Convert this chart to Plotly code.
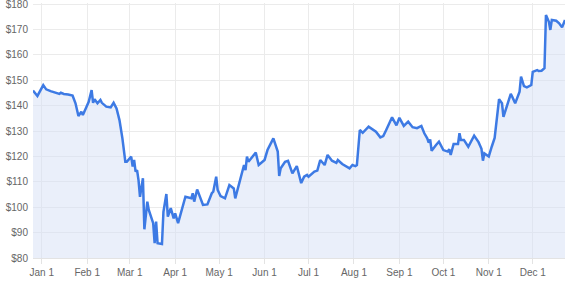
import plotly.graph_objects as go

dates = [
    "2019-12-26", "2019-12-29", "2020-01-02", "2020-01-04", "2020-01-07", "2020-01-11",
    "2020-01-13", "2020-01-14", "2020-01-16", "2020-01-19", "2020-01-22", "2020-01-24",
    "2020-01-26", "2020-01-28", "2020-01-29", "2020-01-31", "2020-02-02", "2020-02-04",
    "2020-02-05", "2020-02-06", "2020-02-08", "2020-02-10", "2020-02-11", "2020-02-14",
    "2020-02-17", "2020-02-19", "2020-02-21", "2020-02-23", "2020-02-25", "2020-02-27",
    "2020-02-28", "2020-03-02", "2020-03-03", "2020-03-04", "2020-03-05", "2020-03-06",
    "2020-03-07", "2020-03-08", "2020-03-10", "2020-03-11", "2020-03-13", "2020-03-14",
    "2020-03-17", "2020-03-18", "2020-03-19", "2020-03-20", "2020-03-23", "2020-03-24",
    "2020-03-26", "2020-03-27", "2020-03-29", "2020-03-31", "2020-04-01", "2020-04-03",
    "2020-04-06", "2020-04-08", "2020-04-12", "2020-04-13", "2020-04-14", "2020-04-16",
    "2020-04-20", "2020-04-23", "2020-04-26", "2020-04-27", "2020-04-29", "2020-04-30",
    "2020-05-02", "2020-05-04", "2020-05-05", "2020-05-08", "2020-05-11", "2020-05-12",
    "2020-05-16", "2020-05-18", "2020-05-19", "2020-05-20", "2020-05-21", "2020-05-26",
    "2020-05-28", "2020-06-01", "2020-06-03", "2020-06-07", "2020-06-10", "2020-06-11",
    "2020-06-12", "2020-06-15", "2020-06-17", "2020-06-20", "2020-06-23", "2020-06-26",
    "2020-06-28", "2020-06-30", "2020-07-01", "2020-07-05", "2020-07-07", "2020-07-09",
    "2020-07-12", "2020-07-14", "2020-07-17", "2020-07-20", "2020-07-21", "2020-07-24",
    "2020-07-29", "2020-07-31", "2020-08-02", "2020-08-03", "2020-08-05", "2020-08-07",
    "2020-08-11", "2020-08-16", "2020-08-19", "2020-08-21", "2020-08-23", "2020-08-27",
    "2020-08-30", "2020-09-01", "2020-09-04", "2020-09-07", "2020-09-10", "2020-09-13",
    "2020-09-16", "2020-09-18", "2020-09-20", "2020-09-21", "2020-09-22", "2020-09-23",
    "2020-09-26", "2020-09-28", "2020-10-01", "2020-10-04", "2020-10-05", "2020-10-06",
    "2020-10-08", "2020-10-11", "2020-10-12", "2020-10-13", "2020-10-15", "2020-10-18",
    "2020-10-22", "2020-10-25", "2020-10-27", "2020-10-28", "2020-10-29", "2020-11-01",
    "2020-11-03", "2020-11-05", "2020-11-08", "2020-11-10", "2020-11-11", "2020-11-13",
    "2020-11-16", "2020-11-17", "2020-11-19", "2020-11-22", "2020-11-23", "2020-11-25",
    "2020-11-27", "2020-11-30", "2020-12-01", "2020-12-04", "2020-12-05", "2020-12-07",
    "2020-12-09", "2020-12-10", "2020-12-12", "2020-12-13", "2020-12-14", "2020-12-17",
    "2020-12-19", "2020-12-21", "2020-12-23",
]

prices = [
    145.9, 143.8, 148.1, 146.4, 145.7, 145.1,
    144.6, 145.1, 144.6, 144.4, 144.0, 140.9,
    135.9, 137.6, 136.3, 138.9, 141.5, 146.1,
    141.1, 142.5, 140.9, 142.2, 141.1, 139.6,
    139.3, 141.1, 138.9, 134.3, 127.1, 117.9,
    117.9, 119.9, 116.0, 118.6, 114.0, 114.6,
    110.7, 104.1, 111.4, 91.3, 102.2, 98.9,
    93.7, 85.8, 94.3, 85.8, 85.5, 98.2,
    105.2, 96.3, 99.6, 95.6, 97.6, 93.7,
    100.2, 104.1, 103.5, 105.5, 102.2, 107.0,
    100.9, 101.1, 105.5, 106.1, 112.0, 106.8,
    104.4, 103.9, 103.5, 108.7, 107.4, 103.5,
    112.0, 116.6, 114.6, 119.9, 117.9, 121.5,
    116.6, 118.6, 122.5, 127.1, 121.9, 112.3,
    115.3, 117.9, 118.3, 113.3, 116.2, 109.5,
    112.0, 112.7, 112.0, 114.0, 114.4, 118.6,
    116.6, 120.6, 118.3, 117.5, 118.6, 117.0,
    115.3, 116.6, 116.2, 116.6, 130.4, 129.3,
    131.7, 129.7, 127.5, 128.0, 130.4, 135.4,
    132.2, 135.2, 132.0, 133.7, 131.5, 131.1,
    132.0, 129.1, 127.1, 125.4, 126.7, 122.2,
    124.5, 125.8, 122.5, 121.9, 122.8, 120.6,
    124.9, 124.9, 129.1, 126.5, 126.5, 123.8,
    128.2, 125.6, 123.0, 118.3, 121.2, 120.0,
    123.8, 127.3, 142.5, 140.9, 135.6, 139.6,
    144.6, 143.5, 140.9, 145.5, 151.4, 147.7,
    147.2, 148.1, 153.3, 154.0, 153.6, 153.7,
    154.7, 175.7, 173.0, 169.8, 173.7, 173.4,
    172.4, 170.8, 173.7,
]

y_ticks = [80, 90, 100, 110, 120, 130, 140, 150, 160, 170, 180]
y_labels = ["$80", "$90", "$100", "$110", "$120", "$130", "$140", "$150", "$160", "$170", "$180"]

fig = go.Figure()
fig.add_trace(go.Scatter(
    x=dates, y=prices, mode="lines",
    line=dict(color="#3d7ae4", width=2.5),
    fill="tozeroy", fillcolor="rgba(214,224,246,0.5)",
    hoverinfo="skip",
))

axis_font = dict(family="Liberation Sans, Arial, sans-serif", size=10, color="#666666")

fig.update_layout(
    width=567, height=283,
    margin=dict(l=33, r=2, t=3, b=25),
    paper_bgcolor="white", plot_bgcolor="white",
    showlegend=False,
    xaxis=dict(
        range=[dates[0], dates[-1]],
        tick0="2020-01-01", dtick="M1", tickformat="%b %-d",
        showgrid=True, gridcolor="#ebebeb", gridwidth=1,
        ticks="outside", ticklen=5, tickcolor="#e3e3e3",
        showline=True, linecolor="#e3e3e3", linewidth=1,
        tickfont=axis_font, zeroline=False,
    ),
    yaxis=dict(
        range=[80, 180.4], tickmode="array", tickvals=y_ticks, ticktext=y_labels,
        showgrid=True, gridcolor="#ebebeb", gridwidth=1,
        zeroline=False, ticks="", tickfont=axis_font,
        ticklabelstandoff=4, ticklabeloverflow="allow", automargin=False,
    ),
)

fig.write_html("out.html")
